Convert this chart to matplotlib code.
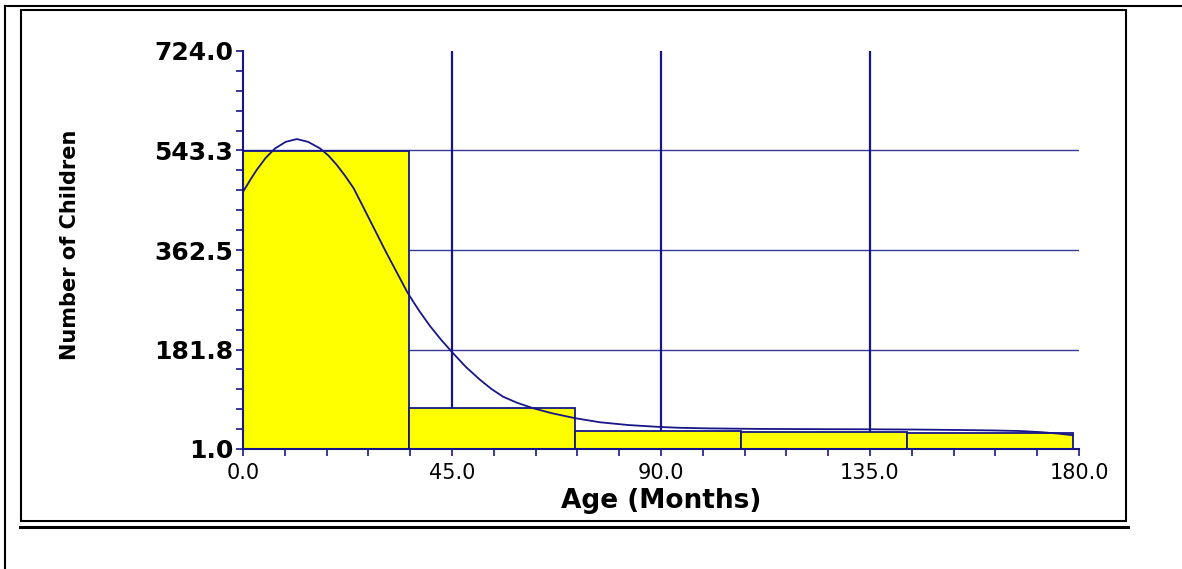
import matplotlib
matplotlib.use("Agg")
import matplotlib.pyplot as plt
from matplotlib.lines import Line2D
from matplotlib.patches import Rectangle
from matplotlib.ticker import AutoMinorLocator

# histogram of ages
bin_edges = [0.0, 35.7, 71.5, 107.2, 142.9, 178.7]
counts = [543, 75, 33, 32, 30]

# density curve
curve_age = [0.0, 1.5, 2.95, 4.9, 6.9, 9.2, 11.6, 14.0, 16.6, 18.4, 20.2,
             22.0, 23.8, 25.5, 27.3, 29.1, 30.9, 33.1, 35.3, 36.7, 38.1,
             40.3, 42.6, 44.9, 48.0, 51.0, 53.5, 56.0, 59.0, 62.5, 66.5,
             71.5, 76.9, 83.0, 89.8, 94.1, 100.0, 111.0, 125.0, 135.0,
             145.0, 154.4, 161.0, 167.3, 172.0, 175.5, 178.7]
curve_count = [468, 489, 508, 530, 547, 559, 564, 559, 547, 534, 517,
               497, 475, 447, 417, 387, 357, 322, 287, 268, 250,
               224, 200, 178, 150, 127, 110, 96, 85, 75, 66,
               57, 49.5, 44.5, 41, 39.5, 38.5, 37.5, 37, 36.8,
               36.3, 35.5, 34.8, 33.7, 31.5, 29, 26]

x_ticks = [0, 45, 90, 135, 180]
x_tick_labels = ["0.0", "45.0", "90.0", "135.0", "180.0"]
y_ticks = [1, 181.75, 362.5, 543.25, 724]
y_tick_labels = ["1.0", "181.8", "362.5", "543.3", "724.0"]

navy = "#16168a"
W, H = 1182, 569

plt.rcParams["font.family"] = ["DejaVu Sans"]

fig = plt.figure(figsize=(W / 100, H / 100), dpi=100)
fig.patch.set_facecolor("white")

def fx(x):
    return x / W

def fy(y):
    return 1 - y / H

# frames around the chart
fig.add_artist(Line2D([fx(5), fx(1182)], [fy(6), fy(6)], color="black", lw=1.5))
fig.add_artist(Line2D([fx(5), fx(5)], [fy(6), fy(569)], color="black", lw=1.5))
fig.add_artist(Rectangle((fx(21), fy(521)), fx(1126) - fx(21), fy(10) - fy(521),
                         fill=False, edgecolor="black", lw=1.5,
                         transform=fig.transFigure))
fig.add_artist(Line2D([fx(20), fx(1128)], [fy(526.5), fy(526.5)], color="black", lw=2.2))

ax = fig.add_axes([fx(243), fy(449), fx(1079) - fx(243), fy(51) - fy(449)])
ax.set_xlim(0, 180)
ax.set_ylim(1, 724)
ax.set_axisbelow(True)

widths = [bin_edges[i + 1] - bin_edges[i] for i in range(len(counts))]
ax.bar(bin_edges[:-1], counts, width=widths, align="edge",
       color="#ffff00", edgecolor=navy, linewidth=1.3, zorder=2)
ax.plot(curve_age, curve_count, color=navy, lw=1.3, zorder=3)

for gx in x_ticks[1:-1]:
    ax.axvline(gx, color=navy, lw=1.6, zorder=0)
for gy in y_ticks[1:-1]:
    ax.axhline(gy, color=navy, lw=1.0, alpha=0.85, zorder=0)

for s in ["top", "right"]:
    ax.spines[s].set_visible(False)
for s in ["left", "bottom"]:
    ax.spines[s].set_color(navy)
    ax.spines[s].set_linewidth(1.5)

ax.set_xticks(x_ticks)
ax.set_xticklabels(x_tick_labels, fontsize=15)
ax.set_yticks(y_ticks)
ax.set_yticklabels(y_tick_labels, fontsize=18, fontweight="bold")
ax.xaxis.set_minor_locator(AutoMinorLocator(5))
ax.yaxis.set_minor_locator(AutoMinorLocator(5))
ax.tick_params(which="both", direction="out", length=5, width=1.2, color=navy)
ax.tick_params(axis="x", pad=5)
ax.tick_params(axis="y", pad=2)

ax.set_xlabel("Age (Months)", fontsize=19, fontweight="bold", labelpad=4)
ax.set_ylabel("Number of Children", fontsize=15, fontweight="bold",
              ha="center", va="center")
ax.yaxis.set_label_coords(fx(70 - 243) / fx(836), (449 - 245) / 398)

fig.savefig("out.png", dpi=100)
